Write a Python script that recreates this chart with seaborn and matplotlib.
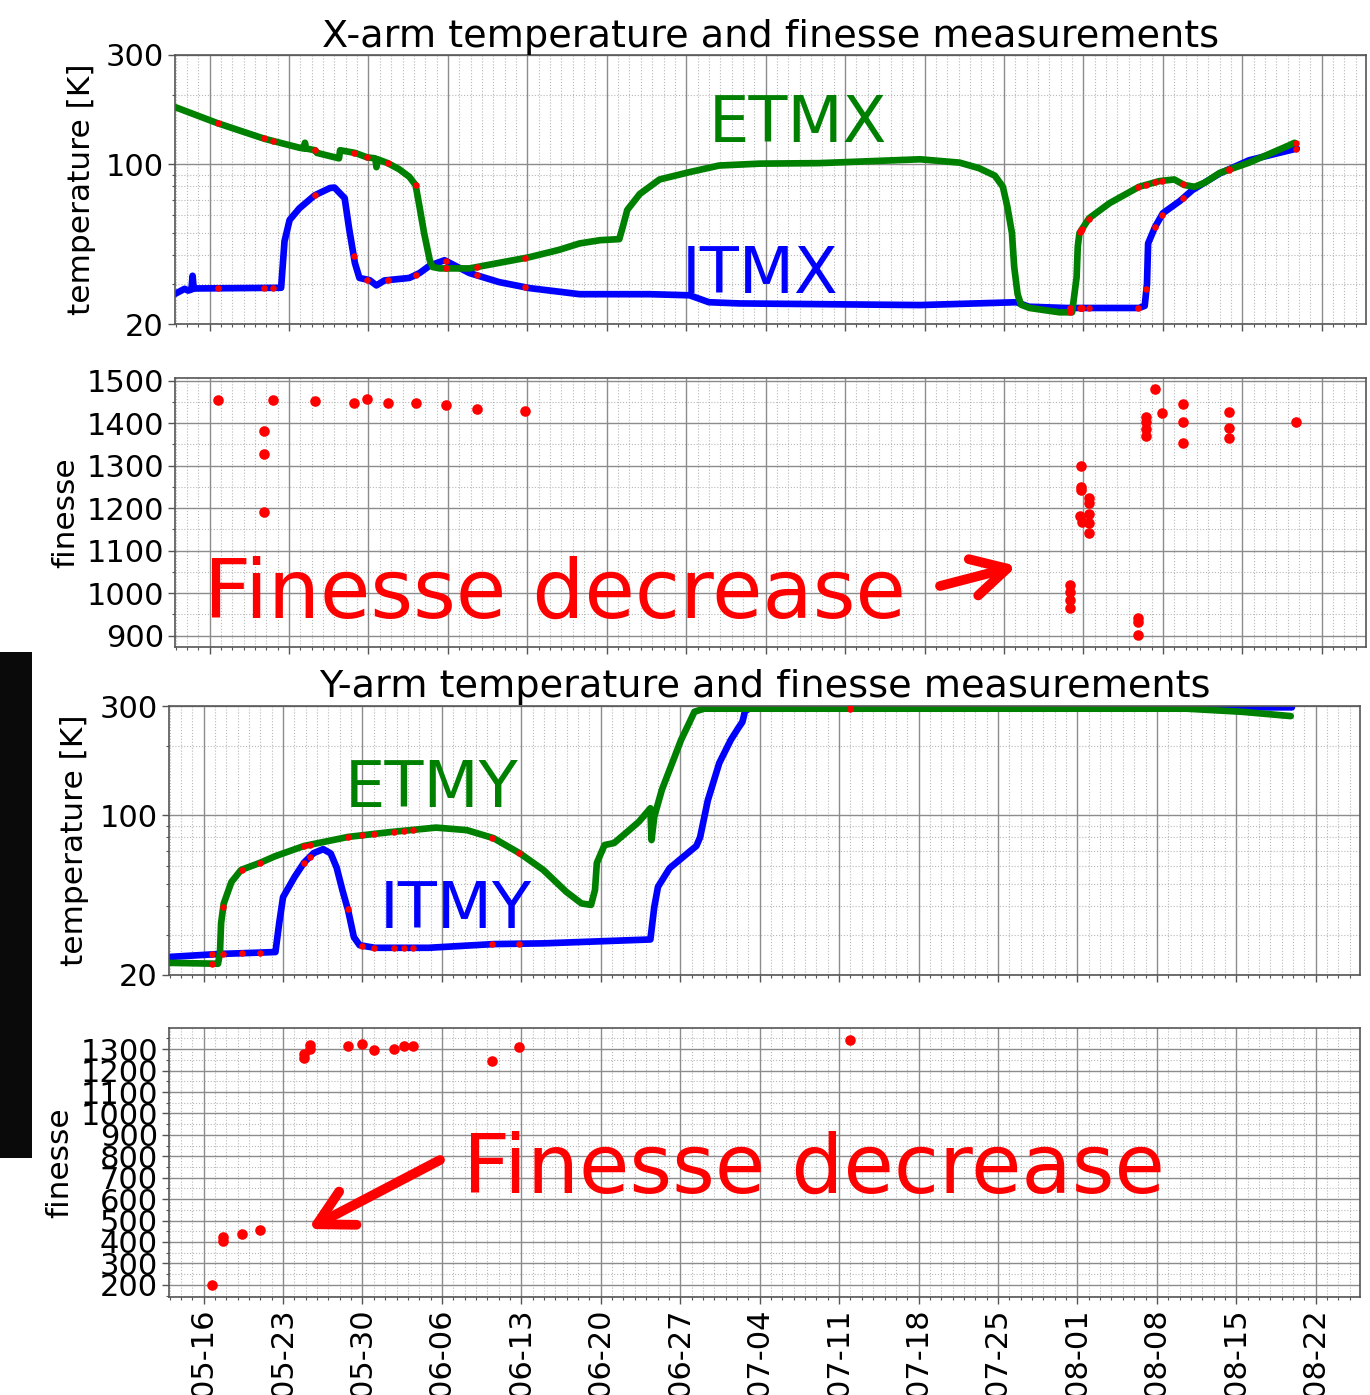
import numpy as np
import pandas as pd
import matplotlib
matplotlib.use("Agg")
import matplotlib.pyplot as plt
import matplotlib.dates as mdates
from matplotlib.ticker import MultipleLocator, FixedLocator, FuncFormatter, NullFormatter, LogLocator
from matplotlib.patches import Rectangle
import seaborn as sns

# ---------------- data (days since 2019-05-16) ----------------
START = pd.Timestamp("2019-05-16")

itmx_day = [-3.1, -2.2, -1.9, -1.6, -1.5, -1.4, -1.3, 6.3, 6.6, 7.05, 7.9, 9.25, 10.6, 11.0, 11.9, 12.3,
            12.8, 13.2, 14.1, 14.7, 15.4, 17.6, 18.5, 19.4, 20.7, 22.9, 25.5, 28.2, 32.6, 38.8, 42.3, 44.0,
            46.7, 62.6, 71.1, 72.2, 75.5, 81.9, 82.4, 82.6, 82.7, 83.3, 84.0, 85.5, 86.6, 89.0, 91.6, 95.2, 95.8]
itmx_temp = [27.0, 28.5, 28.0, 28.3, 32.5, 28.5, 28.6, 28.8, 46, 57, 64, 73, 78.6, 79, 71, 52,
             37, 31.8, 31.1, 29.5, 31, 31.8, 33.4, 36, 38, 33.4, 30.5, 28.7, 27, 27, 26.7, 24.9,
             24.6, 24.2, 24.9, 23.8, 23.5, 23.5, 24, 30, 45, 53, 61, 69, 77, 91, 104, 115, 117]

etmx_day = [-3.1, 0.7, 4.85, 7.9, 8.3, 8.4, 8.5, 9.3, 9.45, 11.4, 11.5, 12.8, 13.9, 14.6, 14.7, 14.8,
            15.7, 16.7, 17.6, 18.15, 18.5, 18.9, 19.4, 19.65, 20.3, 22.9, 25.5, 28.2, 30.8, 32.6, 34.4,
            36.1, 36.4, 36.8, 37.9, 39.65, 42.3, 44.9, 48.5, 53.7, 62.6, 66.1, 67.8, 69.2, 69.9, 70.3,
            70.7, 70.9, 71.2, 71.5, 72.25, 74.9, 76.0, 76.4, 76.5, 76.65, 77.5, 79.3, 81.9, 83.7, 85.0,
            85.9, 86.8, 87.7, 89.0, 91.6, 95.15, 95.6]
etmx_temp = [178, 151, 129, 118, 117, 124, 117, 115, 112, 106, 115, 112, 107, 106, 97, 105,
             101, 95, 88, 81, 65, 50, 38, 35.5, 35, 35, 37, 39.2, 42.2, 45, 46.5,
             47, 53, 63, 74, 85.7, 92.3, 98.6, 100.5, 101, 105, 101.5, 96, 89, 79.6, 65,
             50, 35.5, 27, 24.3, 23.5, 22.5, 22.5, 32, 43.5, 50, 58, 67.5, 79.6, 84.3, 85.7,
             81, 79.6, 83, 91.5, 101.5, 121, 124]

xf_day = [0.7, 4.76, 4.76, 4.76, 5.55, 9.25, 12.7, 13.9, 15.7, 18.15, 20.8, 23.6, 27.8,
          75.8, 75.8, 75.8, 75.8, 76.8, 76.8, 76.75, 76.7, 76.9, 77.45, 77.45, 77.45, 77.45, 77.45,
          81.8, 81.8, 81.8, 82.55, 82.55, 82.55, 82.55, 83.3, 83.9, 85.8, 85.8, 85.8,
          89.8, 89.8, 89.8, 95.7]
xf_val = [1454, 1381, 1327, 1191, 1454, 1452, 1447, 1456, 1447, 1447, 1442, 1433, 1428,
          1019, 1003, 984, 965, 1299, 1250, 1242, 1181, 1167, 1224, 1212, 1186, 1165, 1141,
          941, 932, 901, 1414, 1402, 1385, 1369, 1479, 1423, 1445, 1403, 1353,
          1426, 1388, 1365, 1402]

itmy_day = [-2.94, 1.27, 6.33, 6.66, 7.0, 8.02, 8.85, 9.69, 10.54, 11.2, 11.72, 12.23, 12.73, 13.24,
            13.74, 15.09, 19.82, 25.55, 29.93, 39.37, 39.71, 40.04, 41.06, 43.42, 43.75, 44.43, 45.44,
            46.45, 47.13, 47.47, 47.6, 47.7, 48.3, 95.9]
itmy_temp = [24, 24.7, 25.2, 33.7, 43.8, 53.7, 62, 68.2, 71, 68, 59, 47, 38.4, 29.3,
             27, 26.3, 26.3, 27.3, 27.5, 28.6, 39.6, 48.6, 58.6, 73.3, 80, 116, 169,
             213, 241, 255, 270, 285, 296, 296]

etmy_day = [-2.94, 1.27, 1.44, 1.54, 1.77, 2.45, 3.30, 4.98, 6.33, 8.85, 12.73, 16.44, 20.48, 23.19,
            25.55, 27.9, 29.93, 31.96, 33.3, 34.14, 34.49, 34.65, 35.33, 36.17, 37.18, 38.36, 39.37,
            39.47, 39.71, 40.38, 41.39, 42.07, 42.74, 43.25, 44.09, 48.46, 86.6, 91.5, 95.8]
etmy_temp = [22.6, 22.4, 25, 33.7, 41, 51, 57.6, 61.9, 66.2, 73.3, 80.3, 84.3, 88.2, 86.0,
             79.3, 67.9, 57.6, 46.2, 41.1, 40.5, 47.1, 61.8, 74, 75.5, 83.3, 93.6, 107.2,
             77.8, 98.3, 129, 174, 213, 250, 283, 292, 292, 292, 283, 271]

yf_day = [0.7, 1.73, 1.73, 3.35, 4.96, 8.84, 8.84, 9.37, 9.37, 12.69, 13.92, 15.04, 16.8, 17.7,
          18.44, 25.43, 27.83, 56.94]
yf_val = [200, 422, 405, 436, 456, 1261, 1277, 1319, 1303, 1315, 1322, 1295, 1300, 1315,
          1315, 1244, 1311, 1342]

temp_ticks = [20, 100, 300]


def to_dates(days):
    return START + pd.to_timedelta(np.asarray(days, dtype=float), unit="D")


# ---------------- figure ----------------
sns.set_style("white")
plt.rcParams["font.family"] = ["DejaVu Sans"]
plt.rcParams["text.color"] = "black"
plt.rcParams["axes.labelcolor"] = "black"
plt.rcParams["xtick.color"] = "black"
plt.rcParams["ytick.color"] = "black"

W, H = 1370, 1395
fig = plt.figure(figsize=(W / 100, H / 100), dpi=100)


def px_axes(left, top, right, bottom):
    return fig.add_axes([left / W, 1 - bottom / H, (right - left) / W, (bottom - top) / H])


ax_xt = px_axes(175, 55, 1366, 324)
ax_xf = px_axes(175, 378, 1366, 647)
ax_yt = px_axes(169, 706, 1360, 975)
ax_yf = px_axes(169, 1028, 1360, 1297)

XLIM = (START + pd.Timedelta(days=-3.05), START + pd.Timedelta(days=101.9))


def style(ax, show_dates=False):
    ax.set_xlim(XLIM)
    ax.xaxis.set_major_locator(mdates.WeekdayLocator(byweekday=mdates.TH))
    ax.xaxis.set_minor_locator(mdates.DayLocator())
    ax.xaxis.set_major_formatter(mdates.DateFormatter("%m-%d"))
    ax.grid(which="major", color="#8c8c8c", lw=1.0, ls="-")
    ax.grid(which="minor", color="#b8b8b8", lw=0.8, ls=":")
    ax.set_axisbelow(True)
    for s in ax.spines.values():
        s.set_color("#555555")
        s.set_linewidth(1.2)
    ax.tick_params(which="both", bottom=True, left=True, direction="out", color="#555555")
    ax.tick_params(which="major", length=5, width=1.0, labelsize=22, pad=3, labelcolor="black")
    ax.tick_params(which="minor", length=2.5, width=0.8)
    ax.tick_params(axis="x", which="both", labelbottom=show_dates, labelrotation=90)
    ax.set_xlabel("")


def temp_axis(ax):
    ax.set_yscale("log")
    ax.set_ylim(20, 300)
    ax.yaxis.set_major_locator(FixedLocator(temp_ticks))
    ax.yaxis.set_major_formatter(FuncFormatter(lambda v, p: f"{v:g}"))
    ax.yaxis.set_minor_locator(LogLocator(base=10, subs=np.arange(2, 10)))
    ax.yaxis.set_minor_formatter(NullFormatter())


def draw_temp(ax, itm_d, itm_t, etm_d, etm_t, meas_days):
    sns.lineplot(x=to_dates(itm_d), y=itm_t, ax=ax, color="blue", lw=4.8, estimator=None,
                 sort=False, legend=False, solid_capstyle="round", solid_joinstyle="round")
    sns.lineplot(x=to_dates(etm_d), y=etm_t, ax=ax, color="green", lw=4.8, estimator=None,
                 sort=False, legend=False, solid_capstyle="round", solid_joinstyle="round")
    md = np.unique(meas_days)
    ti = np.exp(np.interp(md, itm_d, np.log(itm_t)))
    te = np.exp(np.interp(md, etm_d, np.log(etm_t)))
    sns.scatterplot(x=to_dates(np.concatenate([md, md])), y=np.concatenate([ti, te]), ax=ax,
                    color="red", s=22, linewidth=0, legend=False, zorder=5)


# X-arm temperature
temp_axis(ax_xt)
draw_temp(ax_xt, itmx_day, itmx_temp, etmx_day, etmx_temp, xf_day)
style(ax_xt)
temp_axis(ax_xt)
ax_xt.set_ylabel("temperature [K]", fontsize=22.5, color="black")
ax_xt.yaxis.set_label_coords((96 - 175) / 1191, 0.5)
ax_xt.set_title("X-arm temperature and finesse measurements", fontsize=27.5, pad=6, color="black")
ax_xt.text(0.5227, 0.6766, "ETMX", transform=ax_xt.transAxes, color="green", fontsize=46,
           ha="center", va="baseline")
ax_xt.text(0.4912, 0.114, "ITMX", transform=ax_xt.transAxes, color="blue", fontsize=46,
           ha="center", va="baseline")

# X-arm finesse
sns.scatterplot(x=to_dates(xf_day), y=xf_val, ax=ax_xf, color="red", s=58, linewidth=0, legend=False)
style(ax_xf)
ax_xf.set_ylim(873, 1506)
ax_xf.yaxis.set_major_locator(MultipleLocator(100))
ax_xf.yaxis.set_minor_locator(MultipleLocator(50))
ax_xf.set_ylabel("finesse", fontsize=22.5, color="black")
ax_xf.yaxis.set_label_coords((80 - 175) / 1191, 0.5)
ax_xf.text(0.319, 0.1078, "Finesse decrease", transform=ax_xf.transAxes, color="red",
           fontsize=59, ha="center", va="baseline")

# Y-arm temperature
temp_axis(ax_yt)
draw_temp(ax_yt, itmy_day, itmy_temp, etmy_day, etmy_temp, yf_day)
style(ax_yt)
temp_axis(ax_yt)
ax_yt.set_ylabel("temperature [K]", fontsize=22.5, color="black")
ax_yt.yaxis.set_label_coords((89 - 169) / 1191, 0.5)
ax_yt.set_title("Y-arm temperature and finesse measurements", fontsize=27.5, pad=6.5, color="black")
ax_yt.text(0.2206, 0.6234, "ETMY", transform=ax_yt.transAxes, color="green", fontsize=46,
           ha="center", va="baseline")
ax_yt.text(0.2406, 0.1736, "ITMY", transform=ax_yt.transAxes, color="blue", fontsize=46,
           ha="center", va="baseline")

# Y-arm finesse
sns.scatterplot(x=to_dates(yf_day), y=yf_val, ax=ax_yf, color="red", s=58, linewidth=0, legend=False)
style(ax_yf, show_dates=True)
ax_yf.set_ylim(143, 1399)
ax_yf.yaxis.set_major_locator(MultipleLocator(100))
ax_yf.yaxis.set_minor_locator(MultipleLocator(50))
ax_yf.set_ylabel("finesse", fontsize=22.5, color="black")
ax_yf.yaxis.set_label_coords((74 - 169) / 1191, 0.5)
ax_yf.text(0.5412, 0.3877, "Finesse decrease", transform=ax_yf.transAxes, color="red",
           fontsize=59, ha="center", va="baseline")


# arrows (figure pixel positions)
def fpx(x, y):
    return (x / W, 1 - y / H)


arrow_kw = dict(arrowstyle="->,head_length=2.5,head_width=1.35", color="red", lw=7,
                shrinkA=0, shrinkB=0, mutation_scale=10, capstyle="round", joinstyle="round")
ax_xf.annotate("", xy=fpx(1017, 566), xytext=fpx(940, 586), xycoords="figure fraction",
               textcoords="figure fraction", arrowprops=arrow_kw)
ax_yf.annotate("", xy=fpx(308, 1229), xytext=fpx(440, 1160), xycoords="figure fraction",
               textcoords="figure fraction", arrowprops=arrow_kw)

# dark strip at the left edge of the screenshot
fig.add_artist(Rectangle((0, 1 - 1158 / H), 32 / W, (1158 - 652) / H, transform=fig.transFigure,
                         facecolor="#0a0a0a", edgecolor="none", zorder=0))

fig.savefig("out.png", dpi=100)
